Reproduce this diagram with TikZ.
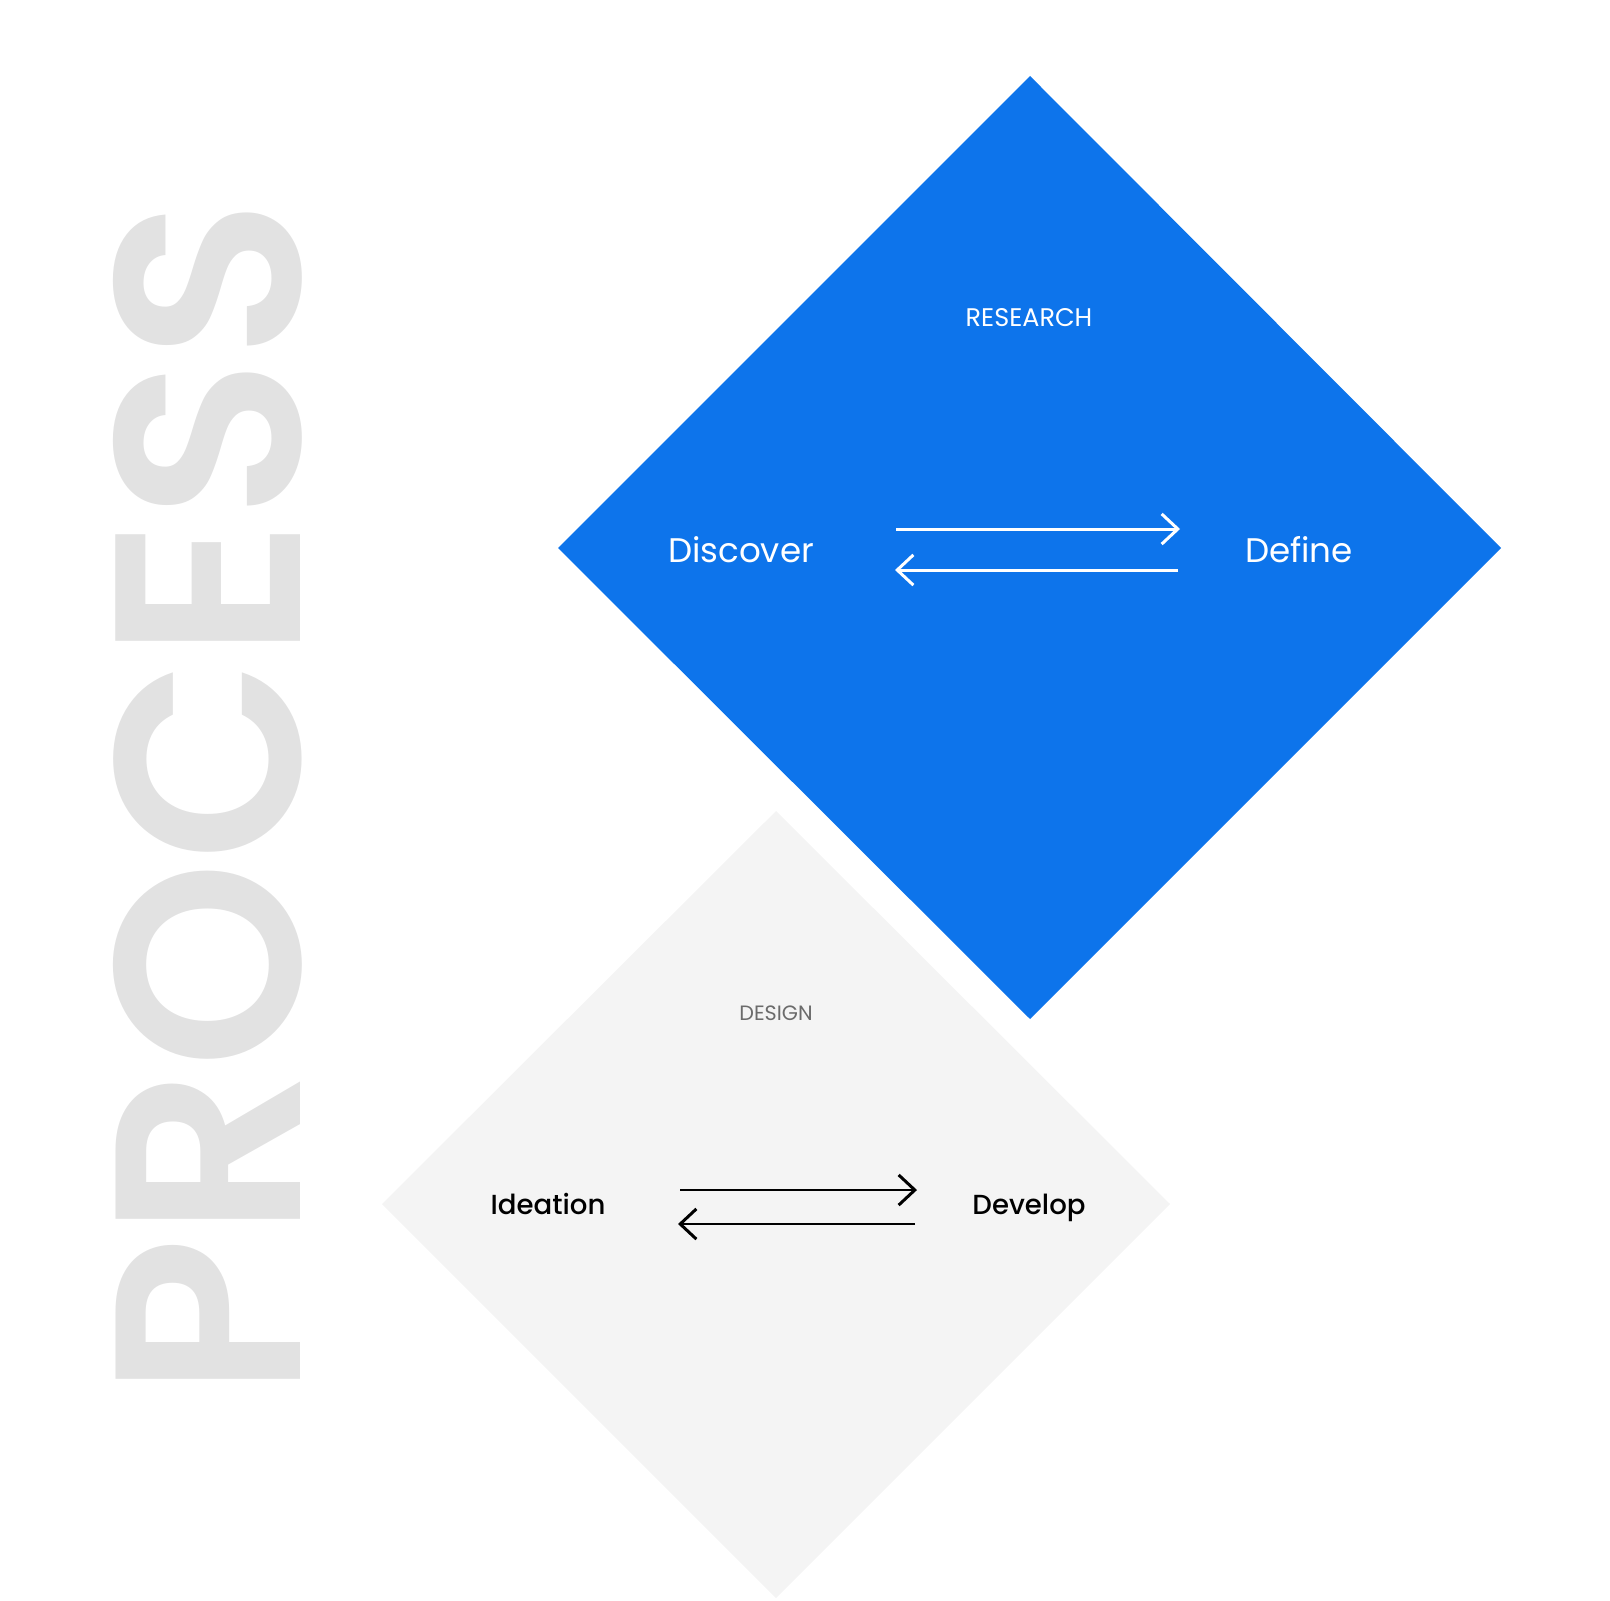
\documentclass[tikz,border=0pt]{standalone}
\usepackage{fontspec}
\setmainfont{Poppins}
\newfontfamily\popmed{Poppins Medium}
\newfontfamily\popbold{Poppins SemiBold}
\usetikzlibrary{arrows.meta}
\definecolor{resblue}{HTML}{0D74EB}
\definecolor{desgray}{HTML}{F4F4F4}
\definecolor{procgray}{HTML}{E2E2E2}
\definecolor{labgray}{HTML}{6B6B6B}
\tikzset{
  phase/.style={font=\fontsize{9.7pt}{12pt}\selectfont, inner sep=0pt, anchor=base},
  title/.style={inner sep=0pt},
  flow/.style={line width=0.85pt, -{Straight Barb[length=4.6pt,width=8.6pt,line width=0.85pt]}},
}
\begin{document}
\begin{tikzpicture}[x=0.01cm,y=-0.01cm]
\useasboundingbox (0,0) rectangle (1610,1600);
% diamonds
\coordinate (rt) at (1030,76);
\coordinate (rl) at (558,548);
\coordinate (rb) at (1030,1019);
\coordinate (rr) at (1501,548);
\fill[resblue] (rt) -- (rr) -- (rb) -- (rl) -- cycle;
\coordinate (dt) at (776,811);
\coordinate (dl) at (382,1204);
\coordinate (db) at (776,1598);
\coordinate (dr) at (1170,1204);
\fill[desgray] (dt) -- (dr) -- (db) -- (dl) -- cycle;
% PROCESS
\node[procgray, rotate=90, inner sep=0pt] (proc) at (208,798) {\resizebox{11.97cm}{1.87cm}{\popbold PROCESS}};
% research
\node[title, white, font=\fontsize{7.25pt}{8pt}\selectfont] (res) at (1029,318) {RESEARCH};
\node[phase, white] (disc) at (741,562) {Discover};
\node[phase, white] (def) at (1299,562) {Define};
\coordinate (a1s) at (896,529);
\coordinate (a1e) at (1180,529);
\coordinate (a2s) at (1178,570);
\coordinate (a2e) at (895,570);
\draw[flow, white] (a1s) -- (a1e);
\draw[flow, white] (a2s) -- (a2e);
% design
\node[title, labgray, font=\fontsize{5.9pt}{7pt}\selectfont] (des) at (776,1013) {DESIGN};
\node[phase, black, font=\popmed\fontsize{7.85pt}{10pt}\selectfont] (idea) at (548,1214) {Ideation};
\node[phase, black, font=\popmed\fontsize{7.85pt}{10pt}\selectfont] (dev) at (1029,1214) {Develop};
\coordinate (b1s) at (680,1190);
\coordinate (b1e) at (917,1190);
\coordinate (b2s) at (915,1224);
\coordinate (b2e) at (678,1224);
\draw[flow, black, line width=0.8pt] (b1s) -- (b1e);
\draw[flow, black, line width=0.8pt] (b2s) -- (b2e);
\end{tikzpicture}
\end{document}
